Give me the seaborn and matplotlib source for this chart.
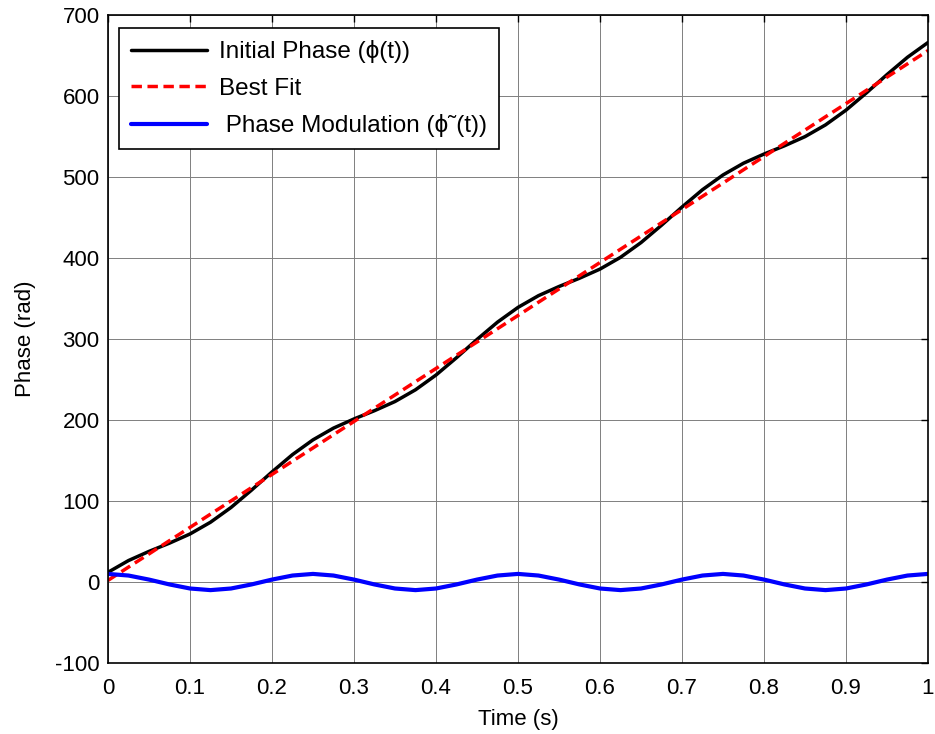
import numpy as np
import pandas as pd
import matplotlib
matplotlib.use("Agg")
import matplotlib.pyplot as plt
import seaborn as sns

# ---- data ----
time_s = [0.0, 0.025, 0.05, 0.075, 0.1, 0.125, 0.15, 0.175, 0.2, 0.225,
          0.25, 0.275, 0.3, 0.325, 0.35, 0.375, 0.4, 0.425, 0.45, 0.475,
          0.5, 0.525, 0.55, 0.575, 0.6, 0.625, 0.65, 0.675, 0.7, 0.725,
          0.75, 0.775, 0.8, 0.825, 0.85, 0.875, 0.9, 0.925, 0.95, 0.975, 1.0]

initial_phase = [12, 26.5, 37.8, 48, 59.3, 73.8, 92, 113.4, 135.9, 157.3,
                 175.5, 190, 201.3, 211.5, 222.8, 237.3, 255.5, 276.9, 299.4, 320.8,
                 339, 353.5, 364.8, 375, 386.3, 400.8, 419, 440.4, 462.9, 484.3,
                 502.5, 517, 528.3, 538.5, 549.8, 564.3, 582.5, 603.9, 626.4, 647.8, 666]

best_fit = [2, 18.4, 34.7, 51.1, 67.4, 83.8, 100.1, 116.5, 132.8, 149.2,
            165.5, 181.9, 198.2, 214.6, 230.9, 247.3, 263.6, 280, 296.3, 312.7,
            329, 345.4, 361.7, 378.1, 394.4, 410.8, 427.1, 443.5, 459.8, 476.2,
            492.5, 508.9, 525.2, 541.6, 557.9, 574.3, 590.6, 607, 623.3, 639.7, 656]

phase_mod = [10, 8, 3, -3, -8, -10, -8, -3, 3, 8,
             10, 8, 3, -3, -8, -10, -8, -3, 3, 8,
             10, 8, 3, -3, -8, -10, -8, -3, 3, 8,
             10, 8, 3, -3, -8, -10, -8, -3, 3, 8, 10]

labels = ["Initial Phase (\u03d5(t))", "Best Fit", " Phase Modulation (\u03d5\u02dc(t))"]
x_ticks = [0, 0.1, 0.2, 0.3, 0.4, 0.5, 0.6, 0.7, 0.8, 0.9, 1]
x_tick_labels = ["0", "0.1", "0.2", "0.3", "0.4", "0.5", "0.6", "0.7", "0.8", "0.9", "1"]
y_ticks = [-100, 0, 100, 200, 300, 400, 500, 600, 700]

sns.set_style("white")
plt.rcParams["font.family"] = ["Liberation Sans", "DejaVu Sans"]
plt.rcParams["axes.unicode_minus"] = False
plt.rcParams["text.color"] = "black"
plt.rcParams["axes.labelcolor"] = "black"

df = pd.DataFrame({"t": time_s, "init": initial_phase, "fit": best_fit, "mod": phase_mod})

fig = plt.figure(figsize=(9.35, 7.34), dpi=100)
ax = fig.add_axes([0.1155, 0.0967, 0.877, 0.8829])

sns.lineplot(data=df, x="t", y="init", ax=ax, color="black", lw=2.5, label=labels[0])
sns.lineplot(data=df, x="t", y="fit", ax=ax, color="red", lw=2.5, ls=(0, (3, 1.6)), label=labels[1])
sns.lineplot(data=df, x="t", y="mod", ax=ax, color="blue", lw=3, label=labels[2])

ax.set_xlim(0, 1)
ax.set_ylim(-100, 700)
ax.set_xticks(x_ticks)
ax.set_xticklabels(x_tick_labels)
ax.set_yticks(y_ticks)
ax.grid(True, color="#7f7f7f", lw=0.7)
ax.set_axisbelow(True)
for s in ax.spines.values():
    s.set_color("black")
    s.set_linewidth(1.2)
ax.tick_params(direction="in", length=5, width=1, top=True, right=True,
               labelsize=16, colors="black")
ax.tick_params(axis="x", pad=11)
ax.tick_params(axis="y", pad=6)
ax.set_xlabel("Time (s)", fontsize=16, labelpad=7, color="black")
ax.set_ylabel("Phase (rad)", fontsize=16, labelpad=14, color="black")

leg = ax.legend(loc="upper left", bbox_to_anchor=(0.0135, 0.98), fontsize=17.5,
                frameon=True, fancybox=False, framealpha=1, edgecolor="black",
                handlelength=3.1, handletextpad=0.5, labelspacing=0.6,
                borderpad=0.5, borderaxespad=0)
leg.get_frame().set_linewidth(1.2)
for t in leg.get_texts():
    t.set_color("black")

fig.savefig("out.png", dpi=100)
